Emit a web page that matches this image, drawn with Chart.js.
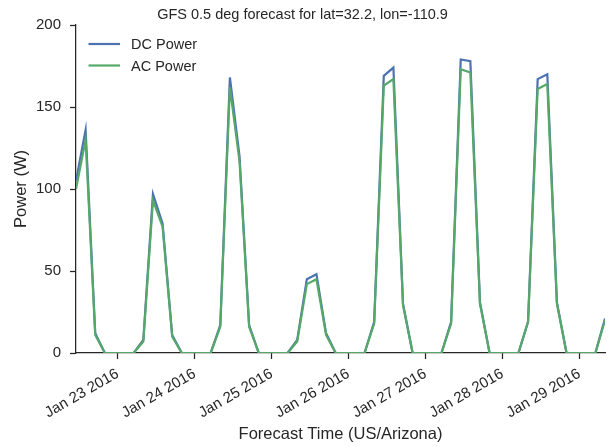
<!DOCTYPE html>
<html lang="en">
<head>
<meta charset="utf-8" />
<title>GFS forecast power</title>
<script src="https://cdn.jsdelivr.net/npm/chart.js@4.4.1/dist/chart.umd.min.js"></script>
<style>
  html, body { margin: 0; padding: 0; background: #fff; }
  #wrap { width: 611px; height: 447px; }
</style>
</head>
<body>
<div id="wrap"><canvas id="myChart"></canvas></div>
<script>
// forecast times, local time (US/Arizona), every 3 hours
var times = [
  "2016-01-22T11:00", "2016-01-22T14:00", "2016-01-22T17:00", "2016-01-22T20:00", "2016-01-22T23:00",
  "2016-01-23T02:00", "2016-01-23T05:00", "2016-01-23T08:00", "2016-01-23T11:00", "2016-01-23T14:00", "2016-01-23T17:00", "2016-01-23T20:00", "2016-01-23T23:00",
  "2016-01-24T02:00", "2016-01-24T05:00", "2016-01-24T08:00", "2016-01-24T11:00", "2016-01-24T14:00", "2016-01-24T17:00", "2016-01-24T20:00", "2016-01-24T23:00",
  "2016-01-25T02:00", "2016-01-25T05:00", "2016-01-25T08:00", "2016-01-25T11:00", "2016-01-25T14:00", "2016-01-25T17:00", "2016-01-25T20:00", "2016-01-25T23:00",
  "2016-01-26T02:00", "2016-01-26T05:00", "2016-01-26T08:00", "2016-01-26T11:00", "2016-01-26T14:00", "2016-01-26T17:00", "2016-01-26T20:00", "2016-01-26T23:00",
  "2016-01-27T02:00", "2016-01-27T05:00", "2016-01-27T08:00", "2016-01-27T11:00", "2016-01-27T14:00", "2016-01-27T17:00", "2016-01-27T20:00", "2016-01-27T23:00",
  "2016-01-28T02:00", "2016-01-28T05:00", "2016-01-28T08:00", "2016-01-28T11:00", "2016-01-28T14:00", "2016-01-28T17:00", "2016-01-28T20:00", "2016-01-28T23:00",
  "2016-01-29T02:00", "2016-01-29T05:00", "2016-01-29T08:00"
];
var dcPower = [
  105, 136, 12, 0, 0,
  0, 0, 8, 97, 79, 11, 0, 0,
  0, 0, 17, 168, 120, 17, 0, 0,
  0, 0, 8, 45, 48, 12, 0, 0,
  0, 0, 19, 169, 174, 30, 0, 0,
  0, 0, 19, 179, 178, 31, 0, 0,
  0, 0, 19, 167, 170, 31, 0, 0,
  0, 0, 21
];
var acPower = [
  100, 130, 11, 0, 0,
  0, 0, 7, 93, 77, 10, 0, 0,
  0, 0, 16, 162, 117, 16, 0, 0,
  0, 0, 7, 42, 45, 11, 0, 0,
  0, 0, 18, 163, 167, 29, 0, 0,
  0, 0, 18, 173, 171, 30, 0, 0,
  0, 0, 19, 161, 164, 30, 0, 0,
  0, 0, 20
];
var tickDates = ["2016-01-23", "2016-01-24", "2016-01-25", "2016-01-26", "2016-01-27", "2016-01-28", "2016-01-29"];
var tickLabels = ["Jan 23 2016", "Jan 24 2016", "Jan 25 2016", "Jan 26 2016", "Jan 27 2016", "Jan 28 2016", "Jan 29 2016"];
var yTicks = [0, 50, 100, 150, 200];

var FONT = "'Liberation Sans', Arial, sans-serif";
var INK = "#262626";

// treat the local times as naive (parse as UTC) so the sandbox timezone doesn't matter
function toMs(s) { return Date.parse(s + ":00Z"); }
var xs = times.map(toMs);
var tickMs = tickDates.map(function (d) { return toMs(d + "T00:00"); });

function pts(vals) {
  return vals.map(function (v, i) { return { x: xs[i], y: v }; });
}

const legendInside = {
  id: "legendInside",
  afterDraw(chart) {
    const ctx = chart.ctx;
    const area = chart.chartArea;
    ctx.save();
    ctx.font = "14.5px " + FONT;
    ctx.textBaseline = "middle";
    chart.data.datasets.forEach(function (ds, i) {
      var y = area.top + 19 + i * 21.5;
      ctx.strokeStyle = ds.borderColor;
      ctx.lineWidth = 2.2;
      ctx.beginPath();
      ctx.moveTo(area.left + 12.5, y);
      ctx.lineTo(area.left + 44, y);
      ctx.stroke();
      ctx.fillStyle = INK;
      ctx.fillText(ds.label, area.left + 55, y + 1);
    });
    ctx.restore();
  }
};

new Chart(document.getElementById("myChart"), {
  type: "line",
  data: {
    datasets: [
      { label: "DC Power", data: pts(dcPower), borderColor: "#4C72B0", borderWidth: 2.2, pointRadius: 0, tension: 0, fill: false, order: 1 },
      { label: "AC Power", data: pts(acPower), borderColor: "#55A868", borderWidth: 2.2, pointRadius: 0, tension: 0, fill: false, order: 0 }
    ]
  },
  options: {
    responsive: true,
    maintainAspectRatio: false,
    animation: false,
    layout: { padding: { left: 0, right: 6, top: 0, bottom: 0 } },
    plugins: {
      legend: { display: false },
      tooltip: { enabled: false },
      title: {
        display: true,
        text: "GFS 0.5 deg forecast for lat=32.2, lon=-110.9",
        color: INK,
        font: { family: FONT, size: 14.5, weight: "normal" },
        padding: { top: 6, bottom: 1.6 }
      }
    },
    scales: {
      x: {
        type: "linear",
        min: xs[0],
        max: xs[xs.length - 1],
        afterBuildTicks: function (scale) {
          scale.ticks = tickMs.map(function (v) { return { value: v }; });
        },
        afterFit: function (scale) { scale.height = 94; },
        border: { color: INK, width: 1.25 },
        grid: { drawOnChartArea: false, drawTicks: true, tickLength: 6, tickWidth: 1.25, tickColor: INK },
        ticks: {
          autoSkip: false,
          minRotation: 30,
          maxRotation: 30,
          padding: 6,
          color: INK,
          font: { family: FONT, size: 15 },
          callback: function (v) {
            var i = tickMs.indexOf(v);
            return i >= 0 ? tickLabels[i] : "";
          }
        },
        title: {
          display: true,
          text: "Forecast Time (US/Arizona)",
          color: INK,
          font: { family: FONT, size: 16.5 },
          padding: { top: 0, bottom: 3 }
        }
      },
      y: {
        min: 0,
        max: 200,
        afterBuildTicks: function (scale) {
          scale.ticks = yTicks.map(function (v) { return { value: v }; });
        },
        afterFit: function (scale) { scale.width = 76; },
        border: { color: INK, width: 1.25 },
        grid: { drawOnChartArea: false, drawTicks: true, tickLength: 6, tickWidth: 1.25, tickColor: INK },
        ticks: {
          padding: 9,
          color: INK,
          font: { family: FONT, size: 15 }
        },
        title: {
          display: true,
          text: "Power (W)",
          color: INK,
          font: { family: FONT, size: 16.5 },
          padding: { top: 12, bottom: 0 }
        }
      }
    }
  },
  plugins: [legendInside]
});
</script>
</body>
</html>
